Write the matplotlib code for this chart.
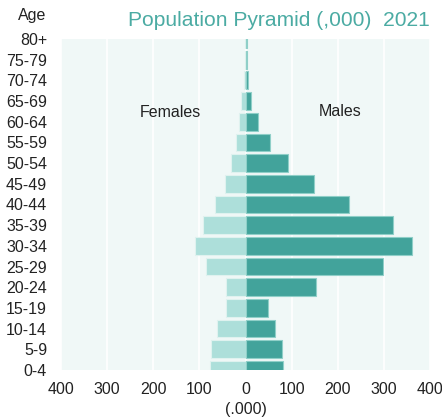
import matplotlib
matplotlib.use("Agg")
import matplotlib.pyplot as plt
from matplotlib.ticker import FuncFormatter

plt.rcParams['font.family'] = ['Liberation Sans', 'DejaVu Sans']

age_groups = ["0-4", "5-9", "10-14", "15-19", "20-24", "25-29", "30-34", "35-39",
              "40-44", "45-49", "50-54", "55-59", "60-64", "65-69", "70-74", "75-79", "80+"]
males = [81, 79, 64, 49, 152, 299, 360, 320, 224, 148, 93, 52, 27, 11, 5, 3, 3]
females = [77, 75, 61, 43, 43, 85, 109, 92, 67, 44, 31, 21, 14, 10, 3, 2, 2]
xticks = [-400, -300, -200, -100, 0, 100, 200, 300, 400]

dark = '#42A39B'
light = '#ADDFDA'
bg = '#F0F8F7'
title_col = '#4BABA3'

fig = plt.figure(figsize=(4.42, 4.19), dpi=100)
ax = fig.add_axes([0.138, 0.117, 0.835, 0.790])
ax.set_facecolor(bg)

ypos = list(range(len(age_groups)))
ax.barh(ypos, [-f for f in females], height=0.86, color=light, edgecolor='#dff2ef', linewidth=0.8, zorder=3)
ax.barh(ypos, males, height=0.86, color=dark, edgecolor='#8fcfc8', linewidth=0.8, zorder=3)

ax.set_xlim(-400, 400)
ax.set_ylim(0, 16)
ax.set_xticks(xticks)
ax.xaxis.set_major_formatter(FuncFormatter(lambda v, p: f"{abs(int(v))}"))
ax.set_yticks(ypos)
ax.set_yticklabels(age_groups)
ax.tick_params(axis='both', length=0, labelsize=11.5, colors='#222222')
ax.tick_params(axis='y', pad=10)
ax.tick_params(axis='x', pad=9)
ax.grid(axis='x', color='white', linewidth=1.2, zorder=1)
ax.set_axisbelow(True)
for s in ax.spines.values():
    s.set_visible(False)

ax.set_xlabel("(.000)", fontsize=11.5, color='#222222', labelpad=3.5)

ax.text(-162, 12.45, "Females", fontsize=11.5, ha='center', va='center', color='#222222', zorder=4)
ax.text(205, 12.5, "Males", fontsize=11.5, ha='center', va='center', color='#222222', zorder=4)

fig.text(0.105, 0.962, "Age", fontsize=11.5, ha='right', va='center', color='#222222')
fig.text(0.973, 0.950, "Population Pyramid (,000)  2021", fontsize=15.1, ha='right', va='center', color=title_col)

fig.savefig("out.png", dpi=100)
